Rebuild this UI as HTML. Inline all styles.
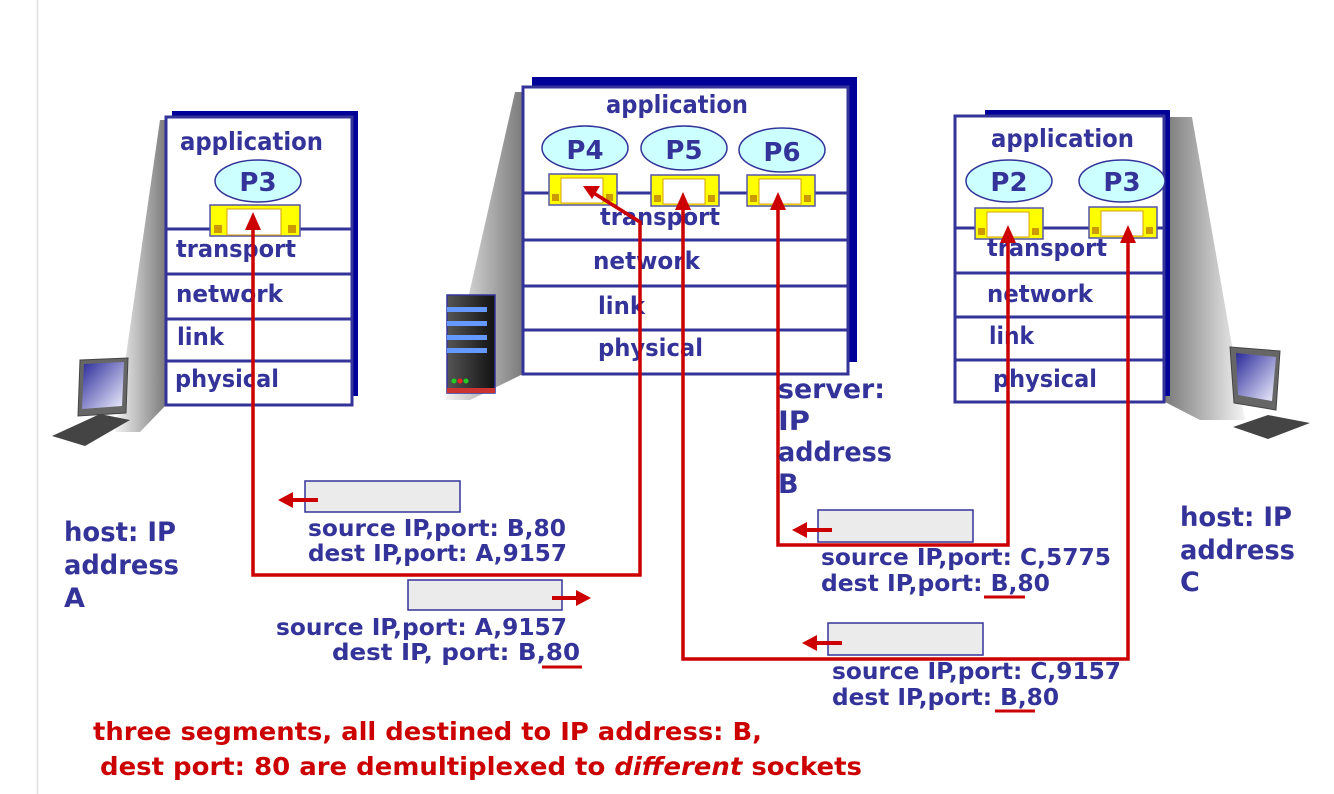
<!DOCTYPE html>
<html><head><meta charset="utf-8"><style>
html,body{margin:0;padding:0;background:#fff;}
svg{display:block}
text{font-family:"DejaVu Sans","Liberation Sans",sans-serif;font-weight:bold;}
.b{fill:#333399}
.r{fill:#cc0000}
</style></head><body>
<svg width="1334" height="794" viewBox="0 0 1334 794" xmlns="http://www.w3.org/2000/svg">
<defs>
<linearGradient id="sh" x1="0" x2="1" y1="0" y2="0"><stop offset="0" stop-color="#f4f4f4"/><stop offset="1" stop-color="#7a7a7a"/></linearGradient>
<linearGradient id="shr" x1="0" x2="1" y1="0" y2="0"><stop offset="0" stop-color="#7a7a7a"/><stop offset="1" stop-color="#f4f4f4"/></linearGradient>
<linearGradient id="scr" x1="0" x2="1" y1="0" y2="1"><stop offset="0" stop-color="#2a2a9a"/><stop offset="1" stop-color="#f0f0ff"/></linearGradient>
<linearGradient id="srv" x1="0" x2="1"><stop offset="0" stop-color="#555"/><stop offset="1" stop-color="#111"/></linearGradient>
<g id="sock"><rect x="0" y="0" width="68" height="31" fill="#ffff00" stroke="#5555aa" stroke-width="1.5"/><rect x="12" y="4" width="42" height="25" fill="#fff" stroke="#d4a000" stroke-width="1"/><rect x="3" y="20" width="7" height="7" fill="#cc9900"/><rect x="57" y="20" width="7" height="7" fill="#cc9900"/></g>
<g id="sockw"><rect x="0" y="0" width="90" height="31" fill="#ffff00" stroke="#5555aa" stroke-width="1.5"/><rect x="17" y="4" width="54" height="26" fill="#fff" stroke="#d4a000" stroke-width="1"/><rect x="4" y="20" width="8" height="8" fill="#cc9900"/><rect x="78" y="20" width="8" height="8" fill="#cc9900"/></g>
</defs>
<line x1="37.5" y1="0" x2="37.5" y2="794" stroke="#e0e0e0" stroke-width="1.5"/>

<!-- shadows -->
<polygon points="160,120 166,120 166,405 140,432 115,432" fill="url(#sh)"/>
<polygon points="515,92 523,92 523,374 470,400 445,400" fill="url(#sh)"/>
<polygon points="1165,117 1192,117 1245,420 1200,420 1165,402" fill="url(#shr)"/>

<!-- laptop A -->
<g transform="translate(50,358)">
<polygon points="30,2 78,0 76,55 28,58" fill="#666" stroke="#444"/>
<polygon points="34,6 74,4 72,48 32,51" fill="url(#scr)"/>
<polygon points="2,78 50,56 80,62 35,88" fill="#444"/>
</g>
<!-- laptop C -->
<g transform="translate(1228,345)">
<polygon points="2,2 52,6 48,65 6,58" fill="#666" stroke="#444"/>
<polygon points="8,8 48,12 44,56 10,50" fill="url(#scr)"/>
<polygon points="5,82 40,70 82,78 40,94" fill="#444"/>
</g>
<!-- server icon -->
<g transform="translate(447,295)">
<rect x="0" y="0" width="48" height="98" fill="url(#srv)" stroke="#333399" stroke-width="1.5"/>
<rect x="0" y="12" width="40" height="5" fill="#6699ff"/><rect x="0" y="26" width="40" height="5" fill="#6699ff"/><rect x="0" y="40" width="40" height="5" fill="#6699ff"/><rect x="0" y="53" width="40" height="5" fill="#6699ff"/>
<circle cx="7" cy="86" r="2.5" fill="#22cc22"/><circle cx="13" cy="86" r="2.5" fill="#ee2222"/><circle cx="19" cy="86" r="2.5" fill="#22cc22"/>
<rect x="0" y="93" width="48" height="5" fill="#cc3333"/>
</g>

<!-- host A stack -->
<rect x="172" y="111" width="186" height="285" fill="#000099"/>
<rect x="166" y="117" width="186" height="288" fill="#fff" stroke="#333399" stroke-width="3"/>
<g stroke="#333399" stroke-width="3"><line x1="166" y1="229" x2="352" y2="229"/><line x1="166" y1="274" x2="352" y2="274"/><line x1="166" y1="319" x2="352" y2="319"/><line x1="166" y1="361" x2="352" y2="361"/></g>
<text class="b" x="180" y="150" font-size="25" textLength="143" lengthAdjust="spacingAndGlyphs">application</text>
<ellipse cx="258" cy="181" rx="43" ry="21" fill="#ccffff" stroke="#333399" stroke-width="1.5"/>
<text class="b" x="258" y="191" font-size="26" text-anchor="middle">P3</text>
<use href="#sockw" x="210" y="205"/>
<text class="b" x="176" y="257" font-size="24" textLength="120" lengthAdjust="spacingAndGlyphs">transport</text>
<text class="b" x="176" y="302" font-size="24" textLength="107" lengthAdjust="spacingAndGlyphs">network</text>
<text class="b" x="177" y="345" font-size="24" textLength="47" lengthAdjust="spacingAndGlyphs">link</text>
<text class="b" x="175" y="387" font-size="24" textLength="104" lengthAdjust="spacingAndGlyphs">physical</text>

<!-- server stack -->
<rect x="532" y="77" width="325" height="285" fill="#000099"/>
<rect x="523" y="87" width="325" height="287" fill="#fff" stroke="#333399" stroke-width="3"/>
<g stroke="#333399" stroke-width="3"><line x1="523" y1="193" x2="848" y2="193"/><line x1="523" y1="240" x2="848" y2="240"/><line x1="523" y1="286" x2="848" y2="286"/><line x1="523" y1="330" x2="848" y2="330"/></g>
<text class="b" x="606" y="113" font-size="25" textLength="142" lengthAdjust="spacingAndGlyphs">application</text>
<ellipse cx="585" cy="148" rx="43" ry="22" fill="#ccffff" stroke="#333399" stroke-width="1.5"/>
<ellipse cx="684" cy="148" rx="43" ry="22" fill="#ccffff" stroke="#333399" stroke-width="1.5"/>
<ellipse cx="782" cy="150" rx="43" ry="22" fill="#ccffff" stroke="#333399" stroke-width="1.5"/>
<text class="b" x="585" y="159" font-size="26" text-anchor="middle">P4</text>
<text class="b" x="684" y="159" font-size="26" text-anchor="middle">P5</text>
<text class="b" x="782" y="161" font-size="26" text-anchor="middle">P6</text>
<use href="#sock" x="549" y="174"/>
<use href="#sock" x="651" y="175"/>
<use href="#sock" x="747" y="175"/>
<text class="b" x="600" y="225" font-size="24" textLength="120" lengthAdjust="spacingAndGlyphs">transport</text>
<text class="b" x="593" y="269" font-size="24" textLength="107" lengthAdjust="spacingAndGlyphs">network</text>
<text class="b" x="598" y="314" font-size="24" textLength="47" lengthAdjust="spacingAndGlyphs">link</text>
<text class="b" x="598" y="356" font-size="24" textLength="105" lengthAdjust="spacingAndGlyphs">physical</text>

<!-- host C stack -->
<rect x="985" y="110" width="185" height="286" fill="#000099"/>
<rect x="955" y="116" width="209" height="286" fill="#fff" stroke="#333399" stroke-width="3"/>
<g stroke="#333399" stroke-width="3"><line x1="955" y1="228" x2="1164" y2="228"/><line x1="955" y1="273" x2="1164" y2="273"/><line x1="955" y1="317" x2="1164" y2="317"/><line x1="955" y1="360" x2="1164" y2="360"/></g>
<text class="b" x="991" y="147" font-size="25" textLength="143" lengthAdjust="spacingAndGlyphs">application</text>
<ellipse cx="1009" cy="181" rx="43" ry="21" fill="#ccffff" stroke="#333399" stroke-width="1.5"/>
<ellipse cx="1122" cy="181" rx="43" ry="21" fill="#ccffff" stroke="#333399" stroke-width="1.5"/>
<text class="b" x="1009" y="191" font-size="26" text-anchor="middle">P2</text>
<text class="b" x="1122" y="191" font-size="26" text-anchor="middle">P3</text>
<use href="#sock" x="975" y="208"/>
<use href="#sock" x="1089" y="207"/>
<text class="b" x="987" y="256" font-size="24" textLength="120" lengthAdjust="spacingAndGlyphs">transport</text>
<text class="b" x="987" y="302" font-size="24" textLength="106" lengthAdjust="spacingAndGlyphs">network</text>
<text class="b" x="989" y="344" font-size="24" textLength="45" lengthAdjust="spacingAndGlyphs">link</text>
<text class="b" x="993" y="387" font-size="24" textLength="104" lengthAdjust="spacingAndGlyphs">physical</text>

<!-- red paths -->
<g fill="none" stroke="#cc0000" stroke-width="3.5" stroke-linejoin="miter">
<polyline points="253,228 253,575 640,575 640,222 592,192"/>
<polyline points="683,206 683,659 1128,659 1128,238"/>
<polyline points="778,206 778,545 1008,545 1008,238"/>
</g>
<g fill="#cc0000">
<polygon points="253,212 245,230 261,230"/>
<polygon points="583,186 600,186 592,199"/>
<polygon points="683,192 675,210 691,210"/>
<polygon points="778,192 770,210 786,210"/>
<polygon points="1008,225 1000,243 1016,243"/>
<polygon points="1128,225 1120,243 1136,243"/>
</g>

<!-- segments -->
<g fill="#ebebeb" stroke="#333399" stroke-width="1.5">
<rect x="305" y="481" width="155" height="31"/>
<rect x="408" y="580" width="154" height="30"/>
<rect x="818" y="510" width="155" height="32"/>
<rect x="828" y="623" width="155" height="32"/>
</g>
<g stroke="#cc0000" stroke-width="4"><line x1="290" y1="500" x2="318" y2="500"/><line x1="552" y1="598" x2="578" y2="598"/><line x1="804" y1="530" x2="832" y2="530"/><line x1="814" y1="643" x2="842" y2="643"/></g>
<g fill="#cc0000"><polygon points="278,500 293,492 293,508"/><polygon points="591,598 576,590 576,606"/><polygon points="792,530 807,522 807,538"/><polygon points="802,643 817,635 817,651"/></g>

<text class="b" x="308" y="536" font-size="23" textLength="258" lengthAdjust="spacingAndGlyphs">source IP,port: B,80</text>
<text class="b" x="308" y="561" font-size="23" textLength="259" lengthAdjust="spacingAndGlyphs">dest IP,port: A,9157</text>
<text class="b" x="276" y="635" font-size="23" textLength="291" lengthAdjust="spacingAndGlyphs">source IP,port: A,9157</text>
<text class="b" x="332" y="660" font-size="23" textLength="248" lengthAdjust="spacingAndGlyphs">dest IP, port: B,80</text>
<text class="b" x="821" y="565" font-size="23" textLength="290" lengthAdjust="spacingAndGlyphs">source IP,port: C,5775</text>
<text class="b" x="821" y="591" font-size="23" textLength="229" lengthAdjust="spacingAndGlyphs">dest IP,port: B,80</text>
<text class="b" x="832" y="679" font-size="23" textLength="289" lengthAdjust="spacingAndGlyphs">source IP,port: C,9157</text>
<text class="b" x="832" y="705" font-size="23" textLength="227" lengthAdjust="spacingAndGlyphs">dest IP,port: B,80</text>
<g stroke="#cc0000" stroke-width="3"><line x1="542" y1="667" x2="582" y2="667"/><line x1="984" y1="597" x2="1025" y2="597"/><line x1="995" y1="711" x2="1035" y2="711"/></g>

<text class="b" x="778" y="398" font-size="27" textLength="107" lengthAdjust="spacingAndGlyphs">server:</text>
<text class="b" x="778" y="430" font-size="27" textLength="32" lengthAdjust="spacingAndGlyphs">IP</text>
<text class="b" x="778" y="461" font-size="27" textLength="114" lengthAdjust="spacingAndGlyphs">address</text>
<text class="b" x="778" y="493" font-size="27">B</text>

<text class="b" x="64" y="541" font-size="27" textLength="112" lengthAdjust="spacingAndGlyphs">host: IP</text>
<text class="b" x="64" y="574" font-size="27" textLength="115" lengthAdjust="spacingAndGlyphs">address</text>
<text class="b" x="64" y="607" font-size="27">A</text>
<text class="b" x="1180" y="526" font-size="27" textLength="112" lengthAdjust="spacingAndGlyphs">host: IP</text>
<text class="b" x="1180" y="559" font-size="27" textLength="115" lengthAdjust="spacingAndGlyphs">address</text>
<text class="b" x="1180" y="591" font-size="27">C</text>

<text class="r" x="93" y="740" font-size="25" textLength="669" lengthAdjust="spacingAndGlyphs">three segments, all destined to IP address: B,</text>
<text class="r" x="100" y="775" font-size="25" textLength="762" lengthAdjust="spacingAndGlyphs">dest port: 80 are demultiplexed to <tspan font-style="italic">different</tspan> sockets</text>
</svg>
</body></html>
